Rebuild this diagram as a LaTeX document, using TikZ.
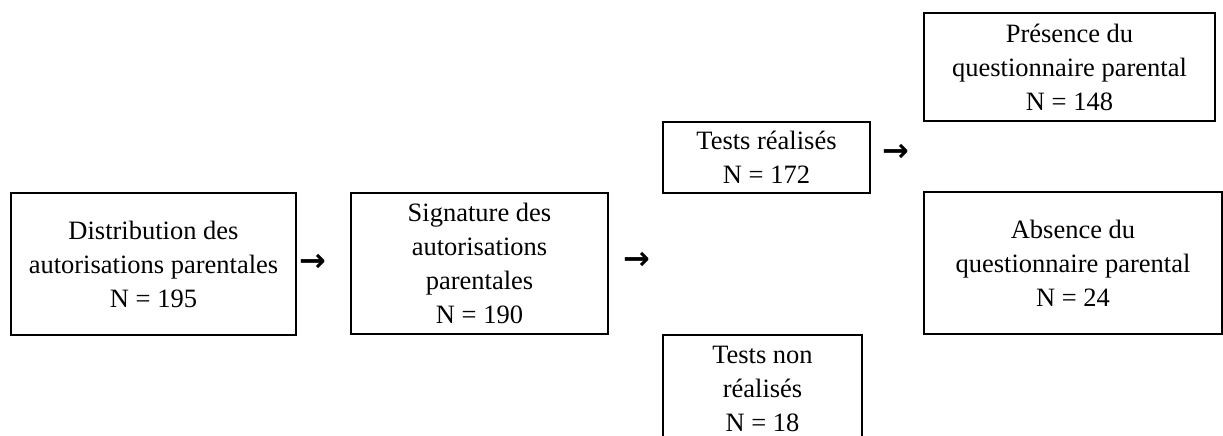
\documentclass[tikz,border=0pt]{standalone}
\usepackage{fontspec}
\setmainfont{Liberation Serif}
\newfontfamily\flechefont{DejaVu Sans}

\begin{document}
\begin{tikzpicture}[x=1pt,y=-1pt,
    boite/.style={draw,line width=1.6pt,inner sep=0pt,align=center,
      font=\fontsize{26.5}{34}\selectfont},
    fleche/.style={inner sep=0pt,font=\flechefont\bfseries\fontsize{32}{32}\selectfont}]
    \clip (0,0) rectangle (1223,436);
    \node[boite,minimum width=285pt,minimum height=142pt] (distrib) at (153.5,264)
      {Distribution des\\autorisations parentales\\N = 195};
    \node[boite,minimum width=257pt,minimum height=141pt] (signe) at (479.5,263.5)
      {Signature des\\autorisations\\parentales\\N = 190};
    \node[boite,minimum width=207pt,minimum height=71pt] (faits) at (766.5,157.5)
      {Tests réalisés\\N = 172};
    \node[boite,minimum width=199pt,minimum height=107pt] (nonfaits) at (762.5,388.5)
      {Tests non\\réalisés\\N = 18};
    \node[boite,minimum width=291pt,minimum height=108pt] (presence) at (1069.5,67)
      {Présence du\\questionnaire parental\\N = 148};
    \node[boite,minimum width=298pt,minimum height=142pt] (absence) at (1073,263)
      {Absence du\\questionnaire parental\\N = 24};
    % fleches entre les etapes
    \node[fleche] (f1) at (313,263) {→};
    \node[fleche] (f2) at (637,261) {→};
    \node[fleche] (f3) at (896,153) {→};
\end{tikzpicture}
\end{document}
